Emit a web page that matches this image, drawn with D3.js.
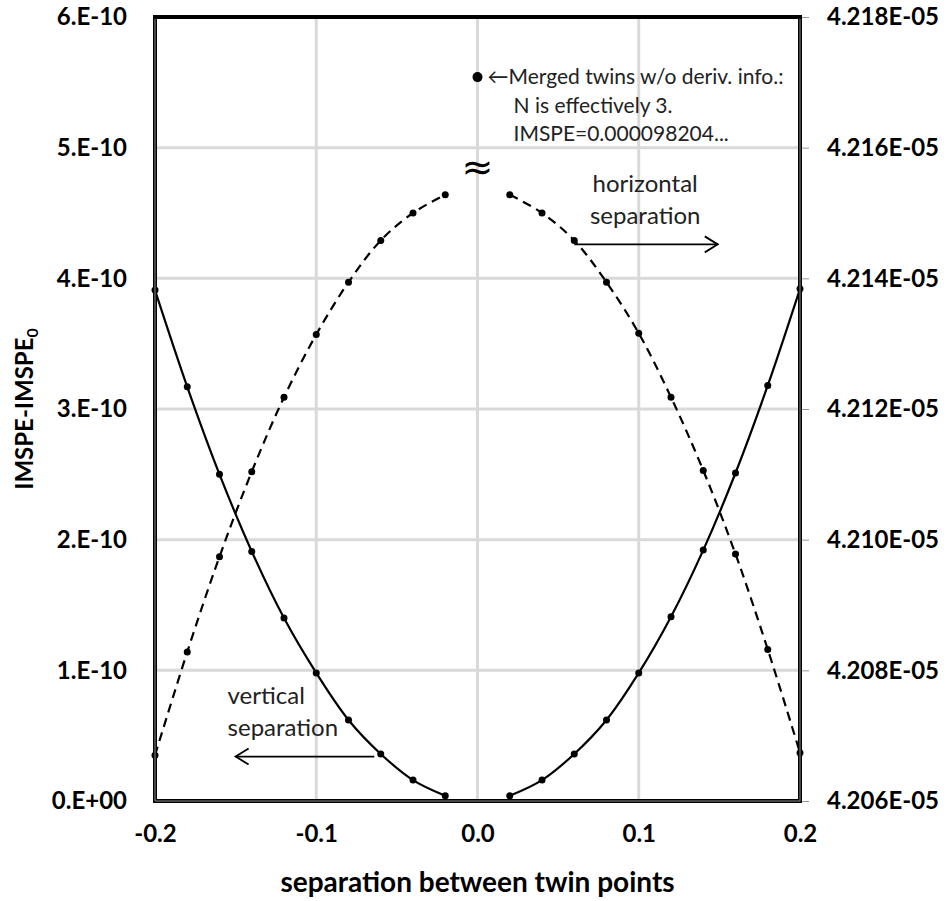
<!DOCTYPE html>
<html>
<head>
<meta charset="utf-8">
<script src="https://cdn.jsdelivr.net/npm/d3@7"></script>
<style>
  body { margin: 0; background: #fff; }
  svg text { font-family: Lato, "Open Sans", sans-serif; }
</style>
</head>
<body>
<svg id="chart" width="951" height="901"></svg>
<script>
// separations (left and right branches, the twins merge at 0)
const sepLeft = [-0.2, -0.18, -0.16, -0.14, -0.12, -0.1, -0.08, -0.06, -0.04, -0.02];
const sepRight = [0.02, 0.04, 0.06, 0.08, 0.1, 0.12, 0.14, 0.16, 0.18, 0.2];

// IMSPE - IMSPE0
const verticalLeft = [3.91e-10, 3.17e-10, 2.50e-10, 1.91e-10, 1.40e-10, 0.98e-10, 0.62e-10, 0.36e-10, 0.16e-10, 0.04e-10];
const verticalRight = [0.04e-10, 0.16e-10, 0.36e-10, 0.62e-10, 0.98e-10, 1.41e-10, 1.92e-10, 2.51e-10, 3.18e-10, 3.92e-10];
const horizontalLeft = [0.35e-10, 1.14e-10, 1.87e-10, 2.52e-10, 3.09e-10, 3.57e-10, 3.97e-10, 4.29e-10, 4.50e-10, 4.64e-10];
const horizontalRight = [4.64e-10, 4.50e-10, 4.29e-10, 3.97e-10, 3.58e-10, 3.09e-10, 2.53e-10, 1.89e-10, 1.16e-10, 0.37e-10];

// merged twins point (shown out of scale)
const mergedSep = [0];
const mergedVal = [5.54e-10];

// ticks
const xTicks = [-0.2, -0.1, 0, 0.1, 0.2];
const yTicks = [0, 1e-10, 2e-10, 3e-10, 4e-10, 5e-10, 6e-10];
const yRightTicks = [4.206e-5, 4.208e-5, 4.210e-5, 4.212e-5, 4.214e-5, 4.216e-5, 4.218e-5];

const svg = d3.select('#chart');
const pLeft = 155, pTop = 17, pRight = 800, pBottom = 801;

const x = d3.scaleLinear().domain([-0.2, 0.2]).range([pLeft, pRight]);
const y = d3.scaleLinear().domain([0, 6e-10]).range([pBottom, pTop]);
const y2 = d3.scaleLinear().domain([4.206e-5, 4.218e-5]).range([pBottom, pTop]);

// Excel style "0.E+00"
const fmtLeft = v => {
    if (v === 0) return '0.E+00';
    const e = Math.floor(Math.log10(v) + 1e-9);
    const m = Math.round(v / Math.pow(10, e));
    return m + '.E' + (e < 0 ? '-' : '+') + String(Math.abs(e)).padStart(2, '0');
};
const fmtRight = v => {
    const e = Math.floor(Math.log10(v) + 1e-9);
    const m = (v / Math.pow(10, e)).toFixed(3);
    return m + 'E' + (e < 0 ? '-' : '+') + String(Math.abs(e)).padStart(2, '0');
};
const fmtX = v => (v < 0 ? '-' : '') + Math.abs(v).toFixed(1);

// gridlines
svg.append('g')
    .selectAll('line')
    .data(yTicks.slice(1, -1))
    .join('line')
    .attr('x1', pLeft).attr('x2', pRight)
    .attr('y1', d => y(d)).attr('y2', d => y(d))
    .attr('stroke', '#d9d9d9').attr('stroke-width', 3);
svg.append('g')
    .selectAll('line')
    .data(xTicks.slice(1, -1))
    .join('line')
    .attr('x1', d => x(d)).attr('x2', d => x(d))
    .attr('y1', pTop).attr('y2', pBottom)
    .attr('stroke', '#d9d9d9').attr('stroke-width', 3);

// axes
const axL = svg.append('g')
    .attr('transform', `translate(${pLeft},0)`)
    .call(d3.axisLeft(y).tickValues(yTicks).tickFormat(fmtLeft).tickSize(0).tickPadding(28));
const axR = svg.append('g')
    .attr('transform', `translate(${pRight},0)`)
    .call(d3.axisRight(y2).tickValues(yRightTicks).tickFormat(fmtRight).tickSize(9).tickPadding(18));
const axB = svg.append('g')
    .attr('transform', `translate(0,${pBottom})`)
    .call(d3.axisBottom(x).tickValues(xTicks).tickFormat(fmtX).tickSize(0).tickPadding(24));
[axL, axR, axB].forEach(g => {
    g.select('.domain').remove();
    g.selectAll('line').attr('stroke', '#999');
    g.selectAll('text')
        .attr('font-size', 24)
        .attr('font-weight', 'bold')
        .attr('fill', '#000');
});

// series
const line = d3.line()
    .x(d => x(d[0]))
    .y(d => y(d[1]))
    .curve(d3.curveCatmullRom.alpha(0.5));

const series = [
    { xs: sepLeft, ys: verticalLeft, dash: null },
    { xs: sepRight, ys: verticalRight, dash: null },
    { xs: sepLeft, ys: horizontalLeft, dash: '9,6' },
    { xs: sepRight, ys: horizontalRight, dash: '9,6' }
];

series.forEach(s => {
    const pts = s.xs.map((v, i) => [v, s.ys[i]]);
    svg.append('path')
        .datum(pts)
        .attr('d', line)
        .attr('fill', 'none')
        .attr('stroke', '#000')
        .attr('stroke-width', 2.2)
        .attr('stroke-dasharray', s.dash);
    svg.append('g')
        .selectAll('circle')
        .data(pts)
        .join('circle')
        .attr('cx', d => x(d[0]))
        .attr('cy', d => y(d[1]))
        .attr('r', 3.5)
        .attr('fill', '#000');
});

svg.append('g')
    .selectAll('circle')
    .data(mergedSep.map((v, i) => [v, mergedVal[i]]))
    .join('circle')
    .attr('cx', d => x(d[0]))
    .attr('cy', d => y(d[1]))
    .attr('r', 5)
    .attr('fill', '#000');

// frame
svg.append('rect')
    .attr('x', pLeft).attr('y', pTop)
    .attr('width', pRight - pLeft).attr('height', pBottom - pTop)
    .attr('fill', 'none').attr('stroke', '#000').attr('stroke-width', 4);
svg.append('path')
    .attr('d', `M${pLeft},${pTop + 2}V${pBottom}H${pRight}V${pTop + 2}`)
    .attr('fill', 'none').attr('stroke', '#8a8a8a').attr('stroke-width', 1);

// axis titles
svg.append('text')
    .attr('x', (pLeft + pRight) / 2).attr('y', 892)
    .attr('text-anchor', 'middle')
    .attr('font-size', 28).attr('font-weight', 'bold')
    .text('separation between twin points');

const yt = svg.append('text')
    .attr('transform', `translate(33,${(pTop + pBottom) / 2}) rotate(-90)`)
    .attr('text-anchor', 'middle')
    .attr('font-size', 24).attr('font-weight', 'bold');
yt.append('tspan').text('IMSPE-IMSPE');
yt.append('tspan').attr('font-size', 16).attr('dy', 5).text('0');

// annotations
const note = svg.append('g').attr('font-size', 21).attr('fill', '#222');
note.append('text')
    .attr('x', x(0) + 10).attr('y', y(mergedVal[0]) + 7)
    .text('\u2190Merged twins w/o deriv. info.:');
note.append('text')
    .attr('x', x(0) + 36).attr('y', y(mergedVal[0]) + 36)
    .text('N is effectively 3.');
note.append('text')
    .attr('x', x(0) + 36).attr('y', y(mergedVal[0]) + 64)
    .text('IMSPE=0.000098204...');

svg.append('text')
    .attr('x', x(0)).attr('y', y(4.9e-10) + 19)
    .attr('text-anchor', 'middle')
    .style('font-family', '"DejaVu Sans", sans-serif')
    .attr('font-size', 38)
    .text('\u2248');

const lab = svg.append('g').attr('font-size', 24).attr('fill', '#222');
lab.append('text').attr('x', x(0.104)).attr('y', y(4.72e-10) + 8).attr('text-anchor', 'middle').text('horizontal');
lab.append('text').attr('x', x(0.104)).attr('y', y(4.48e-10) + 8).attr('text-anchor', 'middle').text('separation');
lab.append('text').attr('x', x(-0.155)).attr('y', y(0.80e-10) + 8).text('vertical');
lab.append('text').attr('x', x(-0.155)).attr('y', y(0.56e-10) + 8).text('separation');

// arrows
const arrow = (x0, x1, v) => {
    const g = svg.append('g').attr('stroke', '#000').attr('stroke-width', 1.8).attr('fill', 'none');
    g.append('line').attr('x1', x(x0)).attr('x2', x(x1)).attr('y1', y(v)).attr('y2', y(v));
    const dir = x1 > x0 ? -1 : 1;
    g.append('path')
        .attr('d', `M${x(x1) + dir * 13},${y(v) - 8}L${x(x1)},${y(v)}L${x(x1) + dir * 13},${y(v) + 8}`);
};
arrow(0.06, 0.149, 4.26e-10);
arrow(-0.064, -0.15, 0.34e-10);
</script>
</body>
</html>
